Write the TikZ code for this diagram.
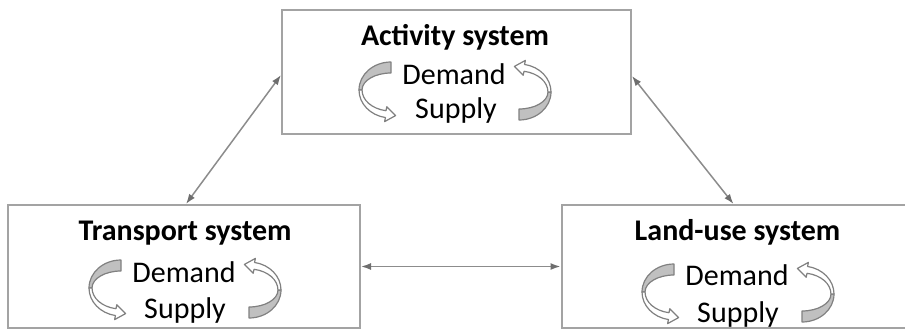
\documentclass[tikz,border=0pt]{standalone}
\usepackage{fontspec}
\setmainfont{Carlito}
\usepackage{xcolor}
\usepackage{tikz}
\usetikzlibrary{calc,arrows.meta}

\definecolor{boxgray}{HTML}{A3A3A3}
\definecolor{linkgray}{HTML}{8C8C8C}
\definecolor{tipgray}{HTML}{6E6E6E}
\definecolor{facegray}{HTML}{C0C0C0}
\definecolor{edgegray}{HTML}{808080}

\tikzset{
  sysbox/.style={draw=boxgray, line width=2pt, inner sep=0pt},
  systitle/.style={anchor=base, font=\fontsize{30}{36}\selectfont\bfseries},
  sysitem/.style={anchor=base, font=\fontsize{30}{36}\selectfont},
  link/.style={draw=linkgray, line width=1.5pt,
    {Latex[length=10pt,width=7pt,color=tipgray]}-{Latex[length=10pt,width=7pt,color=tipgray]}},
  backface/.style={fill=facegray, draw=edgegray, line width=1.2pt, line join=round},
  frontface/.style={fill=white, draw=edgegray, line width=1.2pt, line join=round},
  looparrows/.pic={
    \foreach \r in {0,180}{
      \begin{scope}[rotate=\r]
        \path[backface] (-64,-29) arc[start angle=-90,end angle=-180,x radius=32,y radius=28]
          -- (-93,-1) arc[start angle=180,end angle=270,x radius=29,y radius=17] -- cycle;
        \path[frontface] (-96,-1) arc[start angle=180,end angle=100,x radius=32,y radius=28]
          -- (-70.4,30.6) -- (-59.4,24.6) -- (-68.2,15.7) -- (-69.0,19.7)
          arc[start angle=100,end angle=180,x radius=29,y radius=21] -- cycle;
      \end{scope}
    }
  }
}

\begin{document}
\begin{tikzpicture}[x=1pt,y=-1pt]
  \useasboundingbox (0,0) rectangle (905,332);
  \clip (0,0) rectangle (905,332);

  % the three systems
  \node[sysbox, minimum width=349pt, minimum height=124pt] (act) at (456.5,72) {};
  \node[sysbox, minimum width=352pt, minimum height=123pt] (trans) at (184,266.5) {};
  \node[sysbox, minimum width=352pt, minimum height=123pt] (land) at (737.5,266.5) {};

  \node[systitle] (acttitle) at (455,45) {Activity system};
  \node[sysitem] (actdem) at (454,84) {Demand};
  \node[sysitem] (actsup) at (456,118) {Supply};
  \pic at (455,91) {looparrows};

  \node[systitle] (transtitle) at (185,240) {Transport system};
  \node[sysitem] (transdem) at (184,282) {Demand};
  \node[sysitem] (transsup) at (185,318) {Supply};
  \pic at (185,289) {looparrows};

  \node[systitle] (landtitle) at (737.5,240) {Land-use system};
  \node[sysitem] (landdem) at (737,285) {Demand};
  \node[sysitem] (landsup) at (738,322) {Supply};
  \pic at (738,293) {looparrows};

  % interactions
  \draw[link] ($(trans.north west)+(179,0)$) -- ($(act.north west)+(0,66)$);
  \draw[link] ($(act.north east)+(0,67)$) -- ($(land.north west)+(173,0)$);
  \draw[link] (trans.east) -- (land.west);
\end{tikzpicture}
\end{document}
